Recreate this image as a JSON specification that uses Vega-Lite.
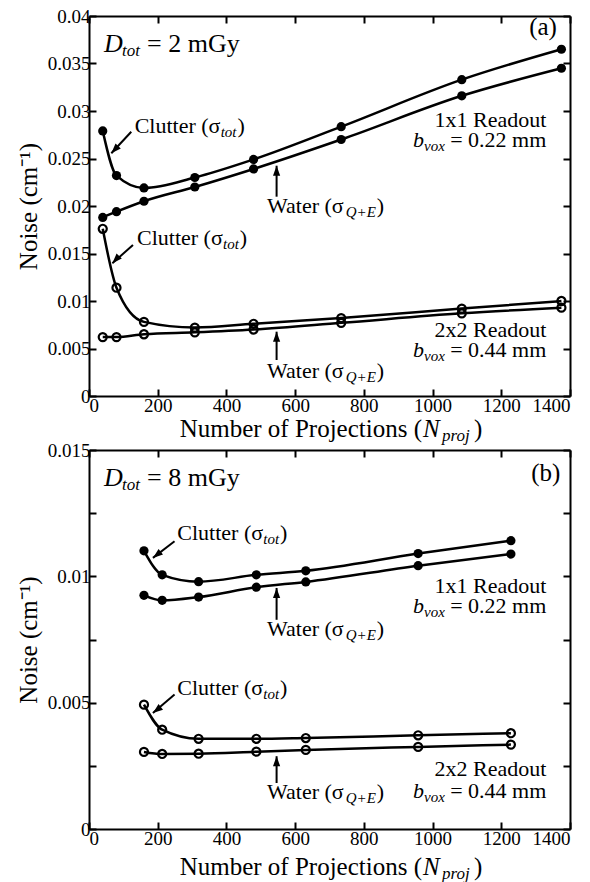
{
  "$schema": "https://vega.github.io/schema/vega-lite/v6.json",
  "background": "white",
  "padding": {"left": 16, "top": 7, "right": 5, "bottom": 0},
  "spacing": -3,
  "config": {
    "view": {"stroke": null},
    "axis": {"domainColor": "black", "domainWidth": 2, "tickColor": "black", "tickWidth": 2, "tickSize": -7, "labelFont": "Liberation Serif", "labelFontSize": 19, "labelColor": "black", "titleFont": "Liberation Serif", "titleFontSize": 25, "titleFontWeight": "normal", "titleColor": "black", "grid": false},
    "text": {"font": "Liberation Serif", "color": "black", "baseline": "alphabetic"}
  },
  "datasets": {
    "curves": [
      {"panel": "a", "series": "C11", "readout": "1x1", "x": 40, "y": 0.0279},
      {"panel": "a", "series": "C11", "readout": "1x1", "x": 80, "y": 0.0232},
      {"panel": "a", "series": "C11", "readout": "1x1", "x": 160, "y": 0.0219},
      {"panel": "a", "series": "C11", "readout": "1x1", "x": 308, "y": 0.0230},
      {"panel": "a", "series": "C11", "readout": "1x1", "x": 479, "y": 0.0249},
      {"panel": "a", "series": "C11", "readout": "1x1", "x": 734, "y": 0.02835},
      {"panel": "a", "series": "C11", "readout": "1x1", "x": 1085, "y": 0.0333},
      {"panel": "a", "series": "C11", "readout": "1x1", "x": 1375, "y": 0.0365},
      {"panel": "a", "series": "W11", "readout": "1x1", "x": 40, "y": 0.0188},
      {"panel": "a", "series": "W11", "readout": "1x1", "x": 80, "y": 0.0194},
      {"panel": "a", "series": "W11", "readout": "1x1", "x": 160, "y": 0.0205},
      {"panel": "a", "series": "W11", "readout": "1x1", "x": 308, "y": 0.0220},
      {"panel": "a", "series": "W11", "readout": "1x1", "x": 479, "y": 0.0239},
      {"panel": "a", "series": "W11", "readout": "1x1", "x": 734, "y": 0.0270},
      {"panel": "a", "series": "W11", "readout": "1x1", "x": 1085, "y": 0.0316},
      {"panel": "a", "series": "W11", "readout": "1x1", "x": 1375, "y": 0.0345},
      {"panel": "a", "series": "C22", "readout": "2x2", "x": 40, "y": 0.0176},
      {"panel": "a", "series": "C22", "readout": "2x2", "x": 80, "y": 0.0114},
      {"panel": "a", "series": "C22", "readout": "2x2", "x": 160, "y": 0.0078},
      {"panel": "a", "series": "C22", "readout": "2x2", "x": 308, "y": 0.0072},
      {"panel": "a", "series": "C22", "readout": "2x2", "x": 479, "y": 0.0076},
      {"panel": "a", "series": "C22", "readout": "2x2", "x": 734, "y": 0.0082},
      {"panel": "a", "series": "C22", "readout": "2x2", "x": 1085, "y": 0.0092},
      {"panel": "a", "series": "C22", "readout": "2x2", "x": 1375, "y": 0.0100},
      {"panel": "a", "series": "W22", "readout": "2x2", "x": 40, "y": 0.0062},
      {"panel": "a", "series": "W22", "readout": "2x2", "x": 80, "y": 0.0062},
      {"panel": "a", "series": "W22", "readout": "2x2", "x": 160, "y": 0.0065},
      {"panel": "a", "series": "W22", "readout": "2x2", "x": 308, "y": 0.0067},
      {"panel": "a", "series": "W22", "readout": "2x2", "x": 479, "y": 0.0070},
      {"panel": "a", "series": "W22", "readout": "2x2", "x": 734, "y": 0.0077},
      {"panel": "a", "series": "W22", "readout": "2x2", "x": 1085, "y": 0.0087},
      {"panel": "a", "series": "W22", "readout": "2x2", "x": 1375, "y": 0.0093},
      {"panel": "b", "series": "C11", "readout": "1x1", "x": 160, "y": 0.01101},
      {"panel": "b", "series": "C11", "readout": "1x1", "x": 213, "y": 0.01006},
      {"panel": "b", "series": "C11", "readout": "1x1", "x": 319, "y": 0.00979},
      {"panel": "b", "series": "C11", "readout": "1x1", "x": 487, "y": 0.01006},
      {"panel": "b", "series": "C11", "readout": "1x1", "x": 631, "y": 0.01022},
      {"panel": "b", "series": "C11", "readout": "1x1", "x": 958, "y": 0.0109},
      {"panel": "b", "series": "C11", "readout": "1x1", "x": 1228, "y": 0.01141},
      {"panel": "b", "series": "W11", "readout": "1x1", "x": 160, "y": 0.00925},
      {"panel": "b", "series": "W11", "readout": "1x1", "x": 213, "y": 0.00905},
      {"panel": "b", "series": "W11", "readout": "1x1", "x": 319, "y": 0.00918},
      {"panel": "b", "series": "W11", "readout": "1x1", "x": 487, "y": 0.00957},
      {"panel": "b", "series": "W11", "readout": "1x1", "x": 631, "y": 0.00978},
      {"panel": "b", "series": "W11", "readout": "1x1", "x": 958, "y": 0.01042},
      {"panel": "b", "series": "W11", "readout": "1x1", "x": 1228, "y": 0.01088},
      {"panel": "b", "series": "C22", "readout": "2x2", "x": 160, "y": 0.00492},
      {"panel": "b", "series": "C22", "readout": "2x2", "x": 213, "y": 0.00393},
      {"panel": "b", "series": "C22", "readout": "2x2", "x": 319, "y": 0.00357},
      {"panel": "b", "series": "C22", "readout": "2x2", "x": 487, "y": 0.00357},
      {"panel": "b", "series": "C22", "readout": "2x2", "x": 631, "y": 0.0036},
      {"panel": "b", "series": "C22", "readout": "2x2", "x": 958, "y": 0.00371},
      {"panel": "b", "series": "C22", "readout": "2x2", "x": 1228, "y": 0.00379},
      {"panel": "b", "series": "W22", "readout": "2x2", "x": 160, "y": 0.00305},
      {"panel": "b", "series": "W22", "readout": "2x2", "x": 213, "y": 0.00297},
      {"panel": "b", "series": "W22", "readout": "2x2", "x": 319, "y": 0.00298},
      {"panel": "b", "series": "W22", "readout": "2x2", "x": 487, "y": 0.00306},
      {"panel": "b", "series": "W22", "readout": "2x2", "x": 631, "y": 0.00313},
      {"panel": "b", "series": "W22", "readout": "2x2", "x": 958, "y": 0.00325},
      {"panel": "b", "series": "W22", "readout": "2x2", "x": 1228, "y": 0.00334}
    ],
    "arrows": [
      {"panel": "a", "dir": "diag", "x": 123, "y": 0.02782, "x2": 65, "y2": 0.02555},
      {"panel": "a", "dir": "up", "x": 546, "y": 0.02098, "x2": 546, "y2": 0.02424},
      {"panel": "a", "dir": "diag", "x": 128, "y": 0.0159, "x2": 68, "y2": 0.01397},
      {"panel": "a", "dir": "up", "x": 546, "y": 0.00379, "x2": 546, "y2": 0.00677},
      {"panel": "b", "dir": "diag", "x": 249, "y": 0.01139, "x2": 186, "y2": 0.01073},
      {"panel": "b", "dir": "up", "x": 546, "y": 0.00828, "x2": 546, "y2": 0.00954},
      {"panel": "b", "dir": "diag", "x": 249, "y": 0.00532, "x2": 186, "y2": 0.00459},
      {"panel": "b", "dir": "up", "x": 546, "y": 0.00182, "x2": 546, "y2": 0.00288}
    ],
    "texts": [
      {"panel": "a", "part": "big", "x": 169, "y": 0.03621, "text": "= 2 mGy"},
      {"panel": "a", "part": "bigItalic", "x": 43.7, "y": 0.03621, "text": "D"},
      {"panel": "a", "part": "bigSub", "x": 96.0, "y": 0.03621, "text": "tot"},
      {"panel": "a", "part": "bigRight", "x": 1362, "y": 0.038, "text": "(a)"},
      {"panel": "a", "part": "main", "x": 133.0, "y": 0.02765, "text": "Clutter (σ"},
      {"panel": "a", "part": "main", "x": 432.2, "y": 0.02765, "text": ")"},
      {"panel": "a", "part": "main", "x": 518.1, "y": 0.01923, "text": "Water (σ"},
      {"panel": "a", "part": "main", "x": 837.7, "y": 0.01923, "text": ")"},
      {"panel": "a", "part": "main", "x": 139.7, "y": 0.01589, "text": "Clutter (σ"},
      {"panel": "a", "part": "main", "x": 438.9, "y": 0.01589, "text": ")"},
      {"panel": "a", "part": "main", "x": 518.1, "y": 0.00189, "text": "Water (σ"},
      {"panel": "a", "part": "main", "x": 837.7, "y": 0.00189, "text": ")"},
      {"panel": "a", "part": "sub", "x": 383.3, "y": 0.02765, "text": "tot"},
      {"panel": "a", "part": "sub", "x": 747.2, "y": 0.01923, "text": "Q+E"},
      {"panel": "a", "part": "sub", "x": 390.0, "y": 0.01589, "text": "tot"},
      {"panel": "a", "part": "sub", "x": 747.2, "y": 0.00189, "text": "Q+E"},
      {"panel": "a", "part": "sub", "x": 975.0, "y": 0.02624, "text": "vox"},
      {"panel": "a", "part": "sub", "x": 975.0, "y": 0.00414, "text": "vox"},
      {"panel": "a", "part": "italic", "x": 943.0, "y": 0.02624, "text": "b"},
      {"panel": "a", "part": "italic", "x": 943.0, "y": 0.00414, "text": "b"},
      {"panel": "a", "part": "right", "x": 1331, "y": 0.02835, "text": "1x1 Readout"},
      {"panel": "a", "part": "right", "x": 1331, "y": 0.02624, "text": "= 0.22 mm"},
      {"panel": "a", "part": "right", "x": 1331, "y": 0.00624, "text": "2x2 Readout"},
      {"panel": "a", "part": "right", "x": 1331, "y": 0.00414, "text": "= 0.44 mm"},
      {"panel": "a", "part": "titleRight", "x": 969.2, "y": -0.00428, "text": "Number of Projections ("},
      {"panel": "a", "part": "titleItalic", "x": 971.9, "y": -0.00428, "text": "N"},
      {"panel": "a", "part": "titleSub", "x": 1027.4, "y": -0.00428, "text": "proj"},
      {"panel": "a", "part": "title", "x": 1120.6, "y": -0.00428, "text": ")"},
      {"panel": "b", "part": "big", "x": 169, "y": 0.01356, "text": "= 8 mGy"},
      {"panel": "b", "part": "bigItalic", "x": 43.7, "y": 0.01356, "text": "D"},
      {"panel": "b", "part": "bigSub", "x": 96.0, "y": 0.01356, "text": "tot"},
      {"panel": "b", "part": "bigRight", "x": 1372, "y": 0.01376, "text": "(b)"},
      {"panel": "b", "part": "main", "x": 257.0, "y": 0.01145, "text": "Clutter (σ"},
      {"panel": "b", "part": "main", "x": 556.2, "y": 0.01145, "text": ")"},
      {"panel": "b", "part": "main", "x": 518.1, "y": 0.00764, "text": "Water (σ"},
      {"panel": "b", "part": "main", "x": 837.7, "y": 0.00764, "text": ")"},
      {"panel": "b", "part": "main", "x": 257.0, "y": 0.00532, "text": "Clutter (σ"},
      {"panel": "b", "part": "main", "x": 556.2, "y": 0.00532, "text": ")"},
      {"panel": "b", "part": "main", "x": 518.1, "y": 0.00117, "text": "Water (σ"},
      {"panel": "b", "part": "main", "x": 837.7, "y": 0.00117, "text": ")"},
      {"panel": "b", "part": "sub", "x": 507.3, "y": 0.01145, "text": "tot"},
      {"panel": "b", "part": "sub", "x": 747.2, "y": 0.00764, "text": "Q+E"},
      {"panel": "b", "part": "sub", "x": 507.3, "y": 0.00532, "text": "tot"},
      {"panel": "b", "part": "sub", "x": 747.2, "y": 0.00117, "text": "Q+E"},
      {"panel": "b", "part": "sub", "x": 975.0, "y": 0.00855, "text": "vox"},
      {"panel": "b", "part": "sub", "x": 975.0, "y": 0.00123, "text": "vox"},
      {"panel": "b", "part": "italic", "x": 943.0, "y": 0.00855, "text": "b"},
      {"panel": "b", "part": "italic", "x": 943.0, "y": 0.00123, "text": "b"},
      {"panel": "b", "part": "right", "x": 1331, "y": 0.00934, "text": "1x1 Readout"},
      {"panel": "b", "part": "right", "x": 1331, "y": 0.00855, "text": "= 0.22 mm"},
      {"panel": "b", "part": "right", "x": 1331, "y": 0.00209, "text": "2x2 Readout"},
      {"panel": "b", "part": "right", "x": 1331, "y": 0.00123, "text": "= 0.44 mm"},
      {"panel": "b", "part": "titleRight", "x": 969.2, "y": -0.00181, "text": "Number of Projections ("},
      {"panel": "b", "part": "titleItalic", "x": 971.9, "y": -0.00181, "text": "N"},
      {"panel": "b", "part": "titleSub", "x": 1027.4, "y": -0.00181, "text": "proj"},
      {"panel": "b", "part": "title", "x": 1120.6, "y": -0.00181, "text": ")"}
    ]
  },
  "vconcat": [
    {
      "width": 481, "height": 380,
      "encoding": {
        "x": {"field": "x", "type": "quantitative", "scale": {"domain": [0, 1400], "nice": false, "zero": false}, "axis": null},
        "y": {"field": "y", "type": "quantitative", "scale": {"domain": [0, 0.04], "nice": false, "zero": false}, "axis": null}
      },
      "layer": [
        {"data": {"name": "curves"}, "transform": [{"filter": "datum.panel === 'a'"}],
         "mark": {"type": "line", "interpolate": "monotone", "strokeWidth": 2.5, "color": "black", "clip": true},
         "encoding": {
           "x": {"field": "x", "type": "quantitative", "scale": {"domain": [0, 1400], "nice": false, "zero": false}, "axis": {"orient": "bottom", "title": null, "values": [0, 200, 400, 600, 800, 1000, 1200, 1400], "format": "d", "labelPadding": 7, "labelFont": "Liberation Serif"}},
           "y": {"field": "y", "type": "quantitative", "scale": {"domain": [0, 0.04], "nice": false, "zero": false}, "axis": {"orient": "left", "title": "Noise (cm⁻¹)", "values": [0, 0.005, 0.01, 0.015, 0.02, 0.025, 0.03, 0.035, 0.04], "format": "~g", "labelPadding": 6, "titlePadding": 6, "labelFont": "Liberation Serif", "titleFont": "Liberation Serif"}},
           "detail": {"field": "series"}
         }},
        {"data": {"name": "curves"}, "transform": [{"filter": "datum.panel === 'a' && datum.readout === '1x1'"}],
         "mark": {"type": "point", "filled": true, "size": 85, "color": "black", "opacity": 1},
         "encoding": {
           "x": {"field": "x", "type": "quantitative", "scale": {"domain": [0, 1400], "nice": false, "zero": false}, "axis": {"orient": "top", "title": null, "labels": false, "values": [0, 200, 400, 600, 800, 1000, 1200, 1400]}},
           "y": {"field": "y", "type": "quantitative", "scale": {"domain": [0, 0.04], "nice": false, "zero": false}, "axis": {"orient": "right", "title": null, "labels": false, "values": [0, 0.005, 0.01, 0.015, 0.02, 0.025, 0.03, 0.035, 0.04]}}
         }},
        {"data": {"name": "curves"}, "transform": [{"filter": "datum.panel === 'a' && datum.readout === '2x2'"}],
         "mark": {"type": "point", "filled": false, "size": 65, "strokeWidth": 2.2, "color": "black", "opacity": 1}},
        {"data": {"name": "arrows"}, "transform": [{"filter": "datum.panel === 'a'"}],
         "mark": {"type": "rule", "strokeWidth": 2, "color": "black"},
         "encoding": {"x2": {"field": "x2"}, "y2": {"field": "y2"}}},
        {"data": {"name": "arrows"}, "transform": [{"filter": "datum.panel === 'a' && datum.dir === 'diag'"}],
         "mark": {"type": "point", "shape": "M0,0L-0.36,1L0.36,1Z", "size": 400, "filled": true, "color": "black", "opacity": 1, "angle": 223},
         "encoding": {"x": {"field": "x2", "type": "quantitative", "axis": null}, "y": {"field": "y2", "type": "quantitative", "axis": null}}},
        {"data": {"name": "arrows"}, "transform": [{"filter": "datum.panel === 'a' && datum.dir === 'up'"}],
         "mark": {"type": "point", "shape": "M0,0L-0.36,1L0.36,1Z", "size": 400, "filled": true, "color": "black", "opacity": 1, "angle": 0},
         "encoding": {"x": {"field": "x2", "type": "quantitative", "axis": null}, "y": {"field": "y2", "type": "quantitative", "axis": null}}},
        {"data": {"name": "texts"}, "transform": [{"filter": "datum.panel === 'a' && datum.part === 'big'"}],
         "mark": {"type": "text", "font": "Liberation Serif", "fontSize": 26, "align": "left"}, "encoding": {"text": {"field": "text"}}},
        {"data": {"name": "texts"}, "transform": [{"filter": "datum.panel === 'a' && datum.part === 'bigItalic'"}],
         "mark": {"type": "text", "font": "Liberation Serif", "fontSize": 26, "fontStyle": "italic", "align": "left"}, "encoding": {"text": {"field": "text"}}},
        {"data": {"name": "texts"}, "transform": [{"filter": "datum.panel === 'a' && datum.part === 'bigSub'"}],
         "mark": {"type": "text", "font": "Liberation Serif", "fontSize": 17, "fontStyle": "italic", "align": "left", "dy": 4}, "encoding": {"text": {"field": "text"}}},
        {"data": {"name": "texts"}, "transform": [{"filter": "datum.panel === 'a' && datum.part === 'bigRight'"}],
         "mark": {"type": "text", "font": "Liberation Serif", "fontSize": 25, "align": "right"}, "encoding": {"text": {"field": "text"}}},
        {"data": {"name": "texts"}, "transform": [{"filter": "datum.panel === 'a' && datum.part === 'main'"}],
         "mark": {"type": "text", "font": "Liberation Serif", "fontSize": 22, "align": "left"}, "encoding": {"text": {"field": "text"}}},
        {"data": {"name": "texts"}, "transform": [{"filter": "datum.panel === 'a' && datum.part === 'sub'"}],
         "mark": {"type": "text", "font": "Liberation Serif", "fontSize": 15, "fontStyle": "italic", "align": "left", "dy": 4}, "encoding": {"text": {"field": "text"}}},
        {"data": {"name": "texts"}, "transform": [{"filter": "datum.panel === 'a' && datum.part === 'italic'"}],
         "mark": {"type": "text", "font": "Liberation Serif", "fontSize": 22, "fontStyle": "italic", "align": "left"}, "encoding": {"text": {"field": "text"}}},
        {"data": {"name": "texts"}, "transform": [{"filter": "datum.panel === 'a' && datum.part === 'right'"}],
         "mark": {"type": "text", "font": "Liberation Serif", "fontSize": 22, "align": "right"}, "encoding": {"text": {"field": "text"}}},
        {"data": {"name": "texts"}, "transform": [{"filter": "datum.panel === 'a' && datum.part === 'titleRight'"}],
         "mark": {"type": "text", "font": "Liberation Serif", "fontSize": 25, "align": "right"}, "encoding": {"text": {"field": "text"}}},
        {"data": {"name": "texts"}, "transform": [{"filter": "datum.panel === 'a' && datum.part === 'titleItalic'"}],
         "mark": {"type": "text", "font": "Liberation Serif", "fontSize": 25, "fontStyle": "italic", "align": "left"}, "encoding": {"text": {"field": "text"}}},
        {"data": {"name": "texts"}, "transform": [{"filter": "datum.panel === 'a' && datum.part === 'titleSub'"}],
         "mark": {"type": "text", "font": "Liberation Serif", "fontSize": 17, "fontStyle": "italic", "align": "left", "dy": 4}, "encoding": {"text": {"field": "text"}}},
        {"data": {"name": "texts"}, "transform": [{"filter": "datum.panel === 'a' && datum.part === 'title'"}],
         "mark": {"type": "text", "font": "Liberation Serif", "fontSize": 25, "align": "left"}, "encoding": {"text": {"field": "text"}}}
      ],
      "resolve": {"axis": {"x": "independent", "y": "independent"}}
    },
    {
      "width": 481, "height": 379,
      "encoding": {
        "x": {"field": "x", "type": "quantitative", "scale": {"domain": [0, 1400], "nice": false, "zero": false}, "axis": null},
        "y": {"field": "y", "type": "quantitative", "scale": {"domain": [0, 0.015], "nice": false, "zero": false}, "axis": null}
      },
      "layer": [
        {"data": {"name": "curves"}, "transform": [{"filter": "datum.panel === 'b'"}],
         "mark": {"type": "line", "interpolate": "monotone", "strokeWidth": 2.5, "color": "black", "clip": true},
         "encoding": {
           "x": {"field": "x", "type": "quantitative", "scale": {"domain": [0, 1400], "nice": false, "zero": false}, "axis": {"orient": "bottom", "title": null, "values": [0, 200, 400, 600, 800, 1000, 1200, 1400], "format": "d", "labelPadding": 7, "labelFont": "Liberation Serif"}},
           "y": {"field": "y", "type": "quantitative", "scale": {"domain": [0, 0.015], "nice": false, "zero": false}, "axis": {"orient": "left", "title": "Noise (cm⁻¹)", "values": [0, 0.0025, 0.005, 0.0075, 0.01, 0.0125, 0.015], "labelExpr": "round(datum.value * 10000) % 50 === 0 ? format(datum.value, '~g') : ''", "labelPadding": 6, "titlePadding": 6, "labelFont": "Liberation Serif", "titleFont": "Liberation Serif"}},
           "detail": {"field": "series"}
         }},
        {"data": {"name": "curves"}, "transform": [{"filter": "datum.panel === 'b' && datum.readout === '1x1'"}],
         "mark": {"type": "point", "filled": true, "size": 85, "color": "black", "opacity": 1},
         "encoding": {
           "x": {"field": "x", "type": "quantitative", "scale": {"domain": [0, 1400], "nice": false, "zero": false}, "axis": {"orient": "top", "title": null, "labels": false, "values": [0, 200, 400, 600, 800, 1000, 1200, 1400]}},
           "y": {"field": "y", "type": "quantitative", "scale": {"domain": [0, 0.015], "nice": false, "zero": false}, "axis": {"orient": "right", "title": null, "labels": false, "values": [0, 0.0025, 0.005, 0.0075, 0.01, 0.0125, 0.015]}}
         }},
        {"data": {"name": "curves"}, "transform": [{"filter": "datum.panel === 'b' && datum.readout === '2x2'"}],
         "mark": {"type": "point", "filled": false, "size": 65, "strokeWidth": 2.2, "color": "black", "opacity": 1}},
        {"data": {"name": "arrows"}, "transform": [{"filter": "datum.panel === 'b'"}],
         "mark": {"type": "rule", "strokeWidth": 2, "color": "black"},
         "encoding": {"x2": {"field": "x2"}, "y2": {"field": "y2"}}},
        {"data": {"name": "arrows"}, "transform": [{"filter": "datum.panel === 'b' && datum.dir === 'diag'"}],
         "mark": {"type": "point", "shape": "M0,0L-0.36,1L0.36,1Z", "size": 400, "filled": true, "color": "black", "opacity": 1, "angle": 232},
         "encoding": {"x": {"field": "x2", "type": "quantitative", "axis": null}, "y": {"field": "y2", "type": "quantitative", "axis": null}}},
        {"data": {"name": "arrows"}, "transform": [{"filter": "datum.panel === 'b' && datum.dir === 'up'"}],
         "mark": {"type": "point", "shape": "M0,0L-0.36,1L0.36,1Z", "size": 400, "filled": true, "color": "black", "opacity": 1, "angle": 0},
         "encoding": {"x": {"field": "x2", "type": "quantitative", "axis": null}, "y": {"field": "y2", "type": "quantitative", "axis": null}}},
        {"data": {"name": "texts"}, "transform": [{"filter": "datum.panel === 'b' && datum.part === 'big'"}],
         "mark": {"type": "text", "font": "Liberation Serif", "fontSize": 26, "align": "left"}, "encoding": {"text": {"field": "text"}}},
        {"data": {"name": "texts"}, "transform": [{"filter": "datum.panel === 'b' && datum.part === 'bigItalic'"}],
         "mark": {"type": "text", "font": "Liberation Serif", "fontSize": 26, "fontStyle": "italic", "align": "left"}, "encoding": {"text": {"field": "text"}}},
        {"data": {"name": "texts"}, "transform": [{"filter": "datum.panel === 'b' && datum.part === 'bigSub'"}],
         "mark": {"type": "text", "font": "Liberation Serif", "fontSize": 17, "fontStyle": "italic", "align": "left", "dy": 4}, "encoding": {"text": {"field": "text"}}},
        {"data": {"name": "texts"}, "transform": [{"filter": "datum.panel === 'b' && datum.part === 'bigRight'"}],
         "mark": {"type": "text", "font": "Liberation Serif", "fontSize": 25, "align": "right"}, "encoding": {"text": {"field": "text"}}},
        {"data": {"name": "texts"}, "transform": [{"filter": "datum.panel === 'b' && datum.part === 'main'"}],
         "mark": {"type": "text", "font": "Liberation Serif", "fontSize": 22, "align": "left"}, "encoding": {"text": {"field": "text"}}},
        {"data": {"name": "texts"}, "transform": [{"filter": "datum.panel === 'b' && datum.part === 'sub'"}],
         "mark": {"type": "text", "font": "Liberation Serif", "fontSize": 15, "fontStyle": "italic", "align": "left", "dy": 4}, "encoding": {"text": {"field": "text"}}},
        {"data": {"name": "texts"}, "transform": [{"filter": "datum.panel === 'b' && datum.part === 'italic'"}],
         "mark": {"type": "text", "font": "Liberation Serif", "fontSize": 22, "fontStyle": "italic", "align": "left"}, "encoding": {"text": {"field": "text"}}},
        {"data": {"name": "texts"}, "transform": [{"filter": "datum.panel === 'b' && datum.part === 'right'"}],
         "mark": {"type": "text", "font": "Liberation Serif", "fontSize": 22, "align": "right"}, "encoding": {"text": {"field": "text"}}},
        {"data": {"name": "texts"}, "transform": [{"filter": "datum.panel === 'b' && datum.part === 'titleRight'"}],
         "mark": {"type": "text", "font": "Liberation Serif", "fontSize": 25, "align": "right"}, "encoding": {"text": {"field": "text"}}},
        {"data": {"name": "texts"}, "transform": [{"filter": "datum.panel === 'b' && datum.part === 'titleItalic'"}],
         "mark": {"type": "text", "font": "Liberation Serif", "fontSize": 25, "fontStyle": "italic", "align": "left"}, "encoding": {"text": {"field": "text"}}},
        {"data": {"name": "texts"}, "transform": [{"filter": "datum.panel === 'b' && datum.part === 'titleSub'"}],
         "mark": {"type": "text", "font": "Liberation Serif", "fontSize": 17, "fontStyle": "italic", "align": "left", "dy": 4}, "encoding": {"text": {"field": "text"}}},
        {"data": {"name": "texts"}, "transform": [{"filter": "datum.panel === 'b' && datum.part === 'title'"}],
         "mark": {"type": "text", "font": "Liberation Serif", "fontSize": 25, "align": "left"}, "encoding": {"text": {"field": "text"}}}
      ],
      "resolve": {"axis": {"x": "independent", "y": "independent"}}
    }
  ]
}
